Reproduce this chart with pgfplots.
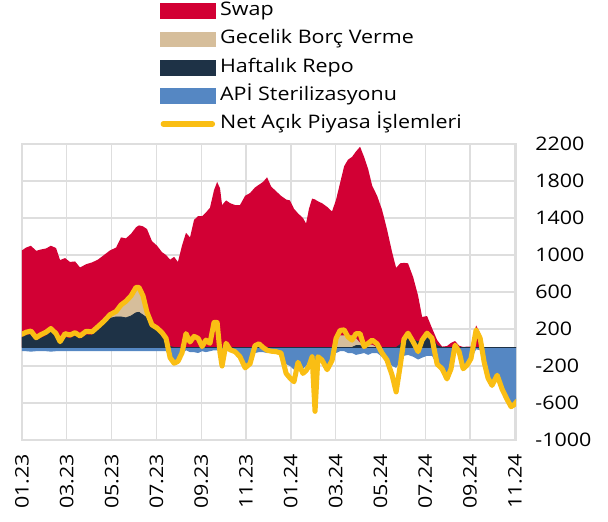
\documentclass[border=0pt]{standalone}
\usepackage{fontspec}
\setmainfont{Open Sans}[FakeStretch=1.15]
\usepackage{pgfplots}
\usepackage{pgfplotstable}
\pgfplotsset{compat=1.18}
\definecolor{swapred}{RGB}{210,0,52}
\definecolor{gectan}{RGB}{214,190,155}
\definecolor{reponavy}{RGB}{30,50,70}
\definecolor{apiblue}{RGB}{85,135,195}
\definecolor{netyellow}{RGB}{250,190,20}
\definecolor{gridgray}{RGB}{222,222,222}
\pgfplotstableread{
m repo gec swap api net
0.00 110 0 940 -40 143
0.18 130 0 950 -40 165
0.40 140 0 960 -45 178
0.63 80 0 965 -40 106
0.85 100 0 960 -40 140
1.07 125 0 945 -40 165
1.29 165 0 935 -45 205
1.52 115 0 960 -40 150
1.70 40 0 905 -40 63
1.92 110 0 857 -40 150
2.14 95 0 830 -40 135
2.37 125 0 805 -40 160
2.59 90 0 775 -40 125
2.86 135 0 765 -40 175
3.13 135 0 785 -40 170
3.39 190 0 760 -40 225
3.66 250 0 750 -40 285
3.93 315 0 735 -40 355
4.20 330 50 700 -40 390
4.42 330 120 740 -40 460
4.64 320 160 700 -40 500
4.87 340 210 680 -40 560
5.09 375 270 655 -40 650
5.22 380 260 680 -40 650
5.40 350 170 790 -40 560
5.58 320 40 920 -40 380
5.80 240 0 910 -40 245
6.03 190 0 910 -40 210
6.25 160 0 870 -40 160
6.43 90 0 910 -40 100
6.61 10 0 940 -110 -110
6.79 0 0 980 -170 -170
6.96 0 0 925 -150 -150
7.14 0 0 1100 -80 -60
7.32 0 0 1240 -30 150
7.50 0 0 1190 -50 60
7.68 0 0 1380 -50 120
7.86 0 0 1420 -60 100
8.04 0 0 1420 -40 10
8.21 0 0 1460 -50 80
8.39 0 0 1510 -40 45
8.57 0 0 1700 -30 270
8.71 0 0 1790 -30 270
8.84 0 0 1720 -50 -60
8.93 0 0 1540 -60 -200
9.11 0 0 1590 -40 45
9.29 0 0 1560 -40 -25
9.51 0 0 1540 -50 -45
9.73 0 0 1540 -90 -100
9.96 0 0 1640 -180 -220
10.18 0 0 1670 -170 -175
10.40 0 0 1730 -60 20
10.58 0 0 1760 -50 40
10.76 0 0 1790 -50 0
10.94 0 0 1840 -60 -30
11.12 0 0 1740 -50 -40
11.34 0 0 1690 -60 -45
11.56 0 0 1640 -70 -60
11.79 0 0 1600 -180 -280
11.96 0 0 1590 -200 -330
12.14 0 0 1500 -240 -370
12.32 0 0 1450 -160 -160
12.54 0 0 1400 -230 -280
12.68 0 0 1340 -200 -250
12.81 0 0 1500 -150 -200
12.95 0 0 1610 -100 -100
13.08 0 0 1600 -240 -690
13.21 0 0 1580 -150 -100
13.39 0 0 1560 -150 -135
13.62 0 0 1520 -200 -240
13.84 0 0 1470 -150 -140
14.02 0 60 1540 -60 100
14.20 0 130 1650 -40 185
14.38 0 130 1830 -40 190
14.55 0 130 1900 -60 115
14.73 0 130 1930 -60 80
14.91 20 80 2020 -80 150
15.09 20 30 2120 -70 150
15.27 0 30 2030 -60 10
15.45 0 30 1900 -80 45
15.63 0 30 1720 -60 80
15.85 0 0 1640 -60 40
16.07 0 0 1490 -100 -60
16.29 0 0 1280 -130 -135
16.52 0 0 1030 -200 -300
16.70 0 0 860 -220 -480
16.88 30 0 880 -150 -200
17.05 110 0 805 -90 90
17.23 120 0 790 -80 155
17.46 90 0 670 -100 60
17.68 60 0 500 -130 -45
17.86 100 0 230 -110 80
18.08 130 0 210 -90 155
18.30 110 0 100 -90 100
18.53 20 0 60 -190 -180
18.75 0 0 10 -230 -230
18.97 0 0 15 -330 -340
19.15 0 0 50 -230 -230
19.33 0 0 70 -20 25
19.51 0 0 20 -60 -45
19.69 0 0 5 -230 -230
19.87 0 0 10 -190 -190
20.04 0 0 10 -130 -120
20.27 0 0 240 -20 190
20.45 0 0 150 -30 100
20.63 0 0 0 -160 -160
20.80 0 0 0 -330 -330
20.98 0 0 0 -410 -410
21.21 0 0 0 -300 -300
21.43 0 0 0 -440 -450
21.65 0 0 0 -550 -560
21.83 0 0 0 -640 -640
21.96 0 0 0 -600 -620
22.10 0 0 0 -570 -580
}\data
\begin{document}
\begin{tikzpicture}
\begin{axis}[
  name=ax,
  width=370.5pt, height=222pt, scale only axis,
  xmin=0, xmax=22.05, ymin=-1000, ymax=2200,
  xtick={0,2,...,22},
  xticklabels={01.23,03.23,05.23,07.23,09.23,11.23,01.24,03.24,05.24,07.24,09.24,11.24},
  ytick={-1000,-600,...,2200},
  yticklabel pos=right,
  grid=major,
  grid style={color=gridgray, line width=1pt},
  axis line style={color=gridgray, line width=1pt},
  major tick length=0pt,
  tick label style={font=\fontsize{14}{16}\selectfont, text=black},
  xticklabel style={rotate=90, anchor=east},
  yticklabel style={anchor=west},
  xticklabel shift=7pt,
  yticklabel shift=11pt,
  /pgf/number format/assume math mode=true,
  /pgf/number format/1000 sep={},
  legend style={at={(0,1)}, anchor=north west, xshift=103.5pt, yshift=107pt,
    draw=none, fill=none, inner sep=0pt, row sep=7.2pt,
    nodes={inner xsep=3.5pt, inner ysep=0pt, text height=10.5pt, text depth=3.5pt},
    font=\fontsize{14}{16}\selectfont},
  legend cell align=left,
]
% APİ sterilization (negative)
\addplot[forget plot, fill=apiblue, draw=none] table[x=m, y=api] {\data} \closedcycle;
% stacked positive areas: swap on top of gecelik on top of repo
\addplot[forget plot, fill=swapred, draw=none] table[x=m, y expr=\thisrow{repo}+\thisrow{gec}+\thisrow{swap}] {\data} \closedcycle;
\addplot[forget plot, fill=gectan, draw=none] table[x=m, y expr=\thisrow{repo}+\thisrow{gec}] {\data} \closedcycle;
\addplot[forget plot, fill=reponavy, draw=reponavy, line width=0.6pt] table[x=m, y=repo] {\data} \closedcycle;
% net line
\addplot[forget plot, color=netyellow, line width=3.8pt, line join=round, line cap=round] table[x=m, y=net] {\data};
\addlegendimage{legend image code/.code={\fill[swapred] (0pt,-5.5pt) rectangle (41pt,5.5pt);}}
\addlegendentry{Swap}
\addlegendimage{legend image code/.code={\fill[gectan] (0pt,-5.5pt) rectangle (41pt,5.5pt);}}
\addlegendentry{Gecelik Borç Verme}
\addlegendimage{legend image code/.code={\fill[reponavy] (0pt,-5.5pt) rectangle (41pt,5.5pt);}}
\addlegendentry{Haftalık Repo}
\addlegendimage{legend image code/.code={\fill[apiblue] (0pt,-5.5pt) rectangle (41pt,5.5pt);}}
\addlegendentry{APİ Sterilizasyonu}
\addlegendimage{legend image code/.code={\draw[netyellow, line width=3.8pt, line cap=round] (2pt,0pt) -- (39pt,0pt);}}
\addlegendentry{Net Açık Piyasa İşlemleri}
\end{axis}
\path (ax.south west) ++(-16.5pt,-61.5pt) rectangle ([shift={(69pt,108pt)}]ax.north east);
\end{tikzpicture}
\end{document}
